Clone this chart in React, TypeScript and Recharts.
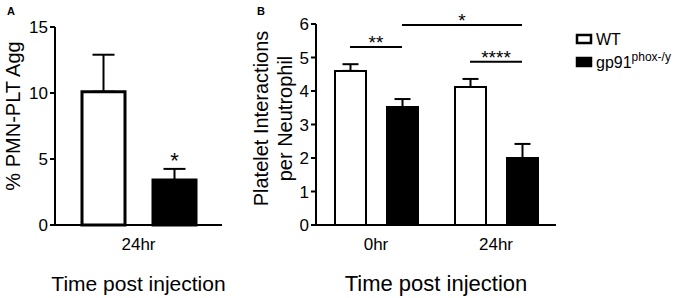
import { BarChart, Bar, XAxis, YAxis, ErrorBar, LabelList, ReferenceLine } from "recharts";

const groups = ["WT", "gp91"];
const groupSup = ["", "phox-/y"];

// panel A
const aTimes = ["24hr"];
const aWT = [10.1];
const aWTErr = [2.8];
const aKO = [3.4];
const aKOErr = [0.85];
const aKOSig = ["*"];
const aTicks = [0, 5, 10, 15];

// panel B
const bTimes = ["0hr", "24hr"];
const bWT = [4.6, 4.12];
const bWTErr = [0.2, 0.24];
const bKO = [3.52, 2.0];
const bKOErr = [0.24, 0.42];
const bTicks = [0, 1, 2, 3, 4, 5, 6];
// comparisons: [time index, group index] -> [time index, group index]
const bSigFrom = [[0, 0], [0, 1], [1, 0]];
const bSigTo = [[0, 1], [1, 1], [1, 1]];
const bSigLevel = [5.31, 5.97, 4.87];
const bSigText = ["**", "*", "****"];

const dataA = aTimes.map((t, i) => ({
  time: t,
  wt: aWT[i],
  ko: aKO[i],
  wtErr: [0, aWTErr[i]],
  koErr: [0, aKOErr[i]]
}));

const dataB = bTimes.map((t, i) => ({
  time: t,
  wt: bWT[i],
  ko: bKO[i],
  wtErr: [0, bWTErr[i]],
  koErr: [0, bKOErr[i]]
}));

const FONT = "'Liberation Sans', Arial, Helvetica, sans-serif";
const H = 298;
const XH = 73;

// layout A
const A_W = 230, A_TOP = 27, A_RIGHT = 8, A_YW = 55;
const A_BAR = 43, A_GAP = 28;
// layout B
const B_LEFT = 230, B_W = 456, B_TOP = 24, B_RIGHT = 130, B_YW = 86;
const B_BAR = 31, B_GAP = 21;
const B_PLOT = B_W - B_RIGHT - B_YW;
const B_BAND = B_PLOT / bTimes.length;

// bar centre as a fraction of the plot width (hidden 0..1 axis)
const barX = (t: number, g: number) =>
  ((t + 0.5) * B_BAND + (g === 0 ? -1 : 1) * (B_BAR + B_GAP) / 2) / B_PLOT;

const axisProps = {
  stroke: "#000",
  axisLine: { stroke: "#000", strokeWidth: 2 },
  tickLine: { stroke: "#000", strokeWidth: 2 },
  tickSize: 5
};

function xTitle(cx: number, size: number) {
  return () => (
    <text x={cx} y={291} textAnchor="middle" fontSize={size} fill="#000">
      Time post injection
    </text>
  );
}

function PanelA() {
  const cy = A_TOP + (H - XH - A_TOP) / 2 - 10;
  return (
    <BarChart
      width={A_W}
      height={H}
      data={dataA}
      margin={{ top: A_TOP, right: A_RIGHT, bottom: 0, left: 0 }}
      barSize={A_BAR}
      barGap={A_GAP}
    >
      <XAxis
        dataKey="time"
        height={XH}
        {...axisProps}
        tickLine={false}
        tickMargin={8}
        tick={{ fill: "#000", fontSize: 17 }}
        label={xTitle(A_YW + (A_W - A_RIGHT - A_YW) / 2, 21)}
      />
      <YAxis
        width={A_YW}
        domain={[0, 15]}
        ticks={aTicks}
        {...axisProps}
        tick={{ fill: "#000", fontSize: 17 }}
        label={() => (
          <text x={20} y={cy} transform={`rotate(-90 20 ${cy})`} textAnchor="middle" fontSize={20} fill="#000">
            % PMN-PLT Agg
          </text>
        )}
      />
      <Bar dataKey="wt" fill="#fff" stroke="#000" strokeWidth={3} isAnimationActive={false}>
        <ErrorBar dataKey="wtErr" width={11} stroke="#000" strokeWidth={2} isAnimationActive={false} />
      </Bar>
      <Bar dataKey="ko" fill="#000" stroke="#000" strokeWidth={3} isAnimationActive={false}>
        <ErrorBar dataKey="koErr" width={11} stroke="#000" strokeWidth={2} isAnimationActive={false} />
        <LabelList
          dataKey="ko"
          content={(p: any) => {
            const vb = p.viewBox ?? p;
            const i = p.index;
            const top = vb.y - (aKOErr[i] * vb.height) / aKO[i];
            return (
              <text x={vb.x + vb.width / 2} y={top - 1} textAnchor="middle" fontSize={22} fill="#000">
                {aKOSig[i]}
              </text>
            );
          }}
        />
      </Bar>
    </BarChart>
  );
}

function PanelB() {
  const cy = B_TOP + (H - XH - B_TOP) / 2 - 6;
  return (
    <BarChart
      width={B_W}
      height={H}
      data={dataB}
      margin={{ top: B_TOP, right: B_RIGHT, bottom: 0, left: 0 }}
      barSize={B_BAR}
      barGap={B_GAP}
    >
      <XAxis
        dataKey="time"
        height={XH}
        {...axisProps}
        tickLine={false}
        tickMargin={8}
        tick={{ fill: "#000", fontSize: 17 }}
        label={xTitle(B_YW + B_PLOT / 2, 22)}
      />
      <XAxis xAxisId="pos" type="number" domain={[0, 1]} allowDataOverflow hide />
      <YAxis
        width={B_YW}
        domain={[0, 6]}
        ticks={bTicks}
        {...axisProps}
        tick={{ fill: "#000", fontSize: 17 }}
        label={() => (
          <g>
            <text x={38} y={cy} transform={`rotate(-90 38 ${cy})`} textAnchor="middle" fontSize={20} fill="#000">
              Platelet Interactions
            </text>
            <text x={62} y={cy} transform={`rotate(-90 62 ${cy})`} textAnchor="middle" fontSize={20} fill="#000">
              per Neutrophil
            </text>
          </g>
        )}
      />
      <Bar dataKey="wt" fill="#fff" stroke="#000" strokeWidth={2} isAnimationActive={false}>
        <ErrorBar dataKey="wtErr" width={8} stroke="#000" strokeWidth={2} isAnimationActive={false} />
      </Bar>
      <Bar dataKey="ko" fill="#000" stroke="#000" strokeWidth={2} isAnimationActive={false}>
        <ErrorBar dataKey="koErr" width={8} stroke="#000" strokeWidth={2} isAnimationActive={false} />
      </Bar>
      {bSigText.map((s, k) => (
        <ReferenceLine
          key={k}
          xAxisId="pos"
          ifOverflow="visible"
          segment={[
            { x: barX(bSigFrom[k][0], bSigFrom[k][1]), y: bSigLevel[k] },
            { x: barX(bSigTo[k][0], bSigTo[k][1]), y: bSigLevel[k] }
          ]}
          stroke="#000"
          strokeWidth={2}
          label={{ value: s, position: "top", offset: -2, fontSize: 19, fill: "#000" }}
        />
      ))}
    </BarChart>
  );
}

export default function App() {
  return (
    <div
      style={{
        position: "absolute",
        left: 0,
        top: 0,
        width: 686,
        height: H,
        background: "#fff",
        fontFamily: FONT
      }}
    >
      <div style={{ position: "absolute", left: 0, top: 0 }}>
        <PanelA />
      </div>
      <div style={{ position: "absolute", left: B_LEFT, top: 0 }}>
        <PanelB />
      </div>
      <svg
        width={686}
        height={H}
        style={{ position: "absolute", left: 0, top: 0, pointerEvents: "none" }}
      >
        <text x={7} y={15} fontSize={11} fontWeight="bold" fill="#000">A</text>
        <text x={257} y={15} fontSize={11} fontWeight="bold" fill="#000">B</text>
        {groups.map((g, i) => (
          <g key={g}>
            <rect
              x={577}
              y={35 + i * 23}
              width={14}
              height={8}
              fill={i === 0 ? "#fff" : "#000"}
              stroke="#000"
              strokeWidth={2.5}
            />
            <text x={596} y={45 + i * 23} fontSize={16} fill="#000">
              {g}
              {groupSup[i] && (
                <tspan fontSize={12} dy={-7}>
                  {groupSup[i]}
                </tspan>
              )}
            </text>
          </g>
        ))}
      </svg>
    </div>
  );
}
